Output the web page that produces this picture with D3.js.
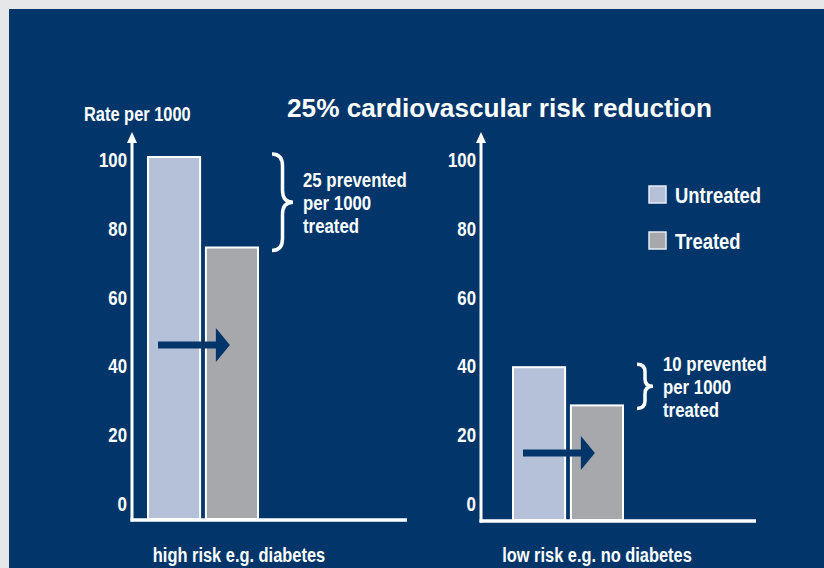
<!DOCTYPE html>
<html>
<head>
<meta charset="utf-8">
<script src="https://cdn.jsdelivr.net/npm/d3@7"></script>
<style>
  html, body { margin: 0; padding: 0; background: #e6e7e8; }
  svg { display: block; }
  .narrow { font-family: "Liberation Sans", Arial, sans-serif; font-weight: bold; }
</style>
</head>
<body>
<div id="chart"></div>
<script>
// dados
const grupos = ["high risk e.g. diabetes", "low risk e.g. no diabetes"];
const series = ["Untreated", "Treated"];
const semTratamento = [100, 40];
const comTratamento = [75, 30];
const prevenidos = [25, 10];
const ticksY = [0, 20, 40, 60, 80, 100];

const largura = 824;
const altura = 568;
const fundo = "#02366a";
const cores = { Untreated: "#b5c1d9", Treated: "#a7a8ab" };

const svg = d3.select("#chart").append("svg")
    .attr("width", largura)
    .attr("height", altura);

svg.append("rect")
    .attr("x", 9).attr("y", 9)
    .attr("width", largura - 9).attr("height", altura - 9)
    .attr("fill", fundo);

// Título
svg.append("text")
    .attr("x", 287).attr("y", 117)
    .attr("fill", "white")
    .style("font-family", "'Liberation Sans', Arial, sans-serif")
    .style("font-weight", "bold")
    .style("font-size", "26.2px")
    .text("25% cardiovascular risk reduction");

svg.append("text")
    .attr("class", "narrow")
    .attr("x", 84).attr("y", 121)
    .attr("fill", "white")
    .style("font-size", "20px")
    .text("Rate per 1000");

// um painel por grupo (posições do desenho)
const paineis = [
    { eixoX: 132, fimX: 407, baseY: 520, barras: [148, 258], topoY: 157, setaY: 345, chaveL: 21, rotuloX: 239 },
    { eixoX: 481, fimX: 756, baseY: 521, barras: [513, 623], topoY: 138, setaY: 453, chaveL: 16, rotuloX: 597 }
];

const escalaRotulo = d3.scaleLinear().domain([0, 100]).range([504, 160]);

paineis.forEach((p, i) => {
    const g = svg.append("g");

    const escalaX = d3.scaleBand()
        .domain(series)
        .range(p.barras)
        .paddingInner(0.1);

    const escalaY = d3.scaleLinear()
        .domain([0, 100])
        .range([p.baseY - 1, p.topoY]);

    // rótulos do eixo Y
    const eixo = g.append("g")
        .attr("transform", `translate(${p.eixoX - 5},0)`)
        .call(d3.axisLeft(escalaRotulo).tickValues(ticksY).tickSize(0).tickPadding(0));
    eixo.select(".domain").remove();
    eixo.selectAll("text")
        .attr("class", "narrow")
        .attr("fill", "white")
        .style("font-size", "20.5px");

    // barras
    const valores = { Untreated: semTratamento[i], Treated: comTratamento[i] };
    g.selectAll("rect.barra")
        .data(series)
        .enter()
        .append("rect")
        .attr("class", "barra")
        .attr("x", d => escalaX(d))
        .attr("y", d => escalaY(valores[d]))
        .attr("width", escalaX.bandwidth())
        .attr("height", d => escalaY(0) - escalaY(valores[d]))
        .attr("fill", d => cores[d])
        .attr("stroke", "white")
        .attr("stroke-width", 2);

    // eixos com seta
    g.append("line")
        .attr("x1", p.eixoX).attr("x2", p.eixoX)
        .attr("y1", p.baseY + 1.5).attr("y2", 140)
        .attr("stroke", "white").attr("stroke-width", 3);
    g.append("path")
        .attr("d", `M${p.eixoX - 5},143 L${p.eixoX},132 L${p.eixoX + 5},143 Z`)
        .attr("fill", "white");
    g.append("line")
        .attr("x1", p.eixoX - 1.5).attr("x2", p.fimX)
        .attr("y1", p.baseY).attr("y2", p.baseY)
        .attr("stroke", "white").attr("stroke-width", 3.5);

    // seta dentro das barras
    const x0 = escalaX("Untreated") + 10;
    const x1 = escalaX("Treated") + 24;
    g.append("line")
        .attr("x1", x0).attr("x2", x1 - 12)
        .attr("y1", p.setaY).attr("y2", p.setaY)
        .attr("stroke", fundo).attr("stroke-width", 7);
    g.append("path")
        .attr("d", `M${x1 - 14},${p.setaY - 17} L${x1},${p.setaY} L${x1 - 14},${p.setaY + 17} Z`)
        .attr("fill", fundo);

    // chave
    const cx = escalaX("Treated") + escalaX.bandwidth() + 14;
    const y0 = escalaY(semTratamento[i]) - 3;
    const y1 = escalaY(comTratamento[i]) + 3;
    const ym = (y0 + y1) / 2;
    const w = p.chaveL;
    const q = Math.min(12, (y1 - y0) / 6);
    g.append("path")
        .attr("d", `M${cx},${y0} Q${cx + w / 2},${y0} ${cx + w / 2},${y0 + q}
            L${cx + w / 2},${ym - q} Q${cx + w / 2},${ym} ${cx + w},${ym}
            Q${cx + w / 2},${ym} ${cx + w / 2},${ym + q}
            L${cx + w / 2},${y1 - q} Q${cx + w / 2},${y1} ${cx},${y1}`)
        .attr("fill", "none")
        .attr("stroke", "white")
        .attr("stroke-width", 3.5);

    const linhas = [`${prevenidos[i]} prevented`, "per 1000", "treated"];
    g.append("text")
        .attr("fill", "white")
        .selectAll("tspan")
        .data(linhas)
        .enter()
        .append("tspan")
        .attr("class", "narrow")
        .style("font-size", "20.5px")
        .attr("x", cx + w + 10)
        .attr("y", (d, j) => ym - 22 + j * 23)
        .attr("dy", "0.35em")
        .text(d => d);

    // rótulo do grupo
    g.append("text")
        .attr("class", "narrow")
        .attr("x", p.rotuloX)
        .attr("y", 555)
        .attr("dy", "0.35em")
        .attr("text-anchor", "middle")
        .attr("fill", "white")
        .style("font-size", "20px")
        .text(grupos[i]);
});

// Legenda
const legenda = svg.append("g").attr("transform", "translate(649,186)");
series.forEach((s, i) => {
    legenda.append("rect")
        .attr("x", 0).attr("y", i * 46)
        .attr("width", 17).attr("height", 17)
        .attr("fill", cores[s])
        .attr("stroke", "#e8ecf4")
        .attr("stroke-width", 1.5);
    legenda.append("text")
        .attr("class", "narrow")
        .attr("x", 26).attr("y", i * 46 + 9)
        .attr("dy", "0.35em")
        .attr("fill", "white")
        .style("font-size", "22.5px")
        .text(s);
});

// Sem fonte condensada instalada: comprime o texto em 82%
svg.selectAll(".narrow").each(function () {
    const el = this;
    const larg = el.getComputedTextLength();
    d3.select(el)
        .attr("textLength", (larg * 0.82).toFixed(1))
        .attr("lengthAdjust", "spacingAndGlyphs");
});
</script>
</body>
</html>
